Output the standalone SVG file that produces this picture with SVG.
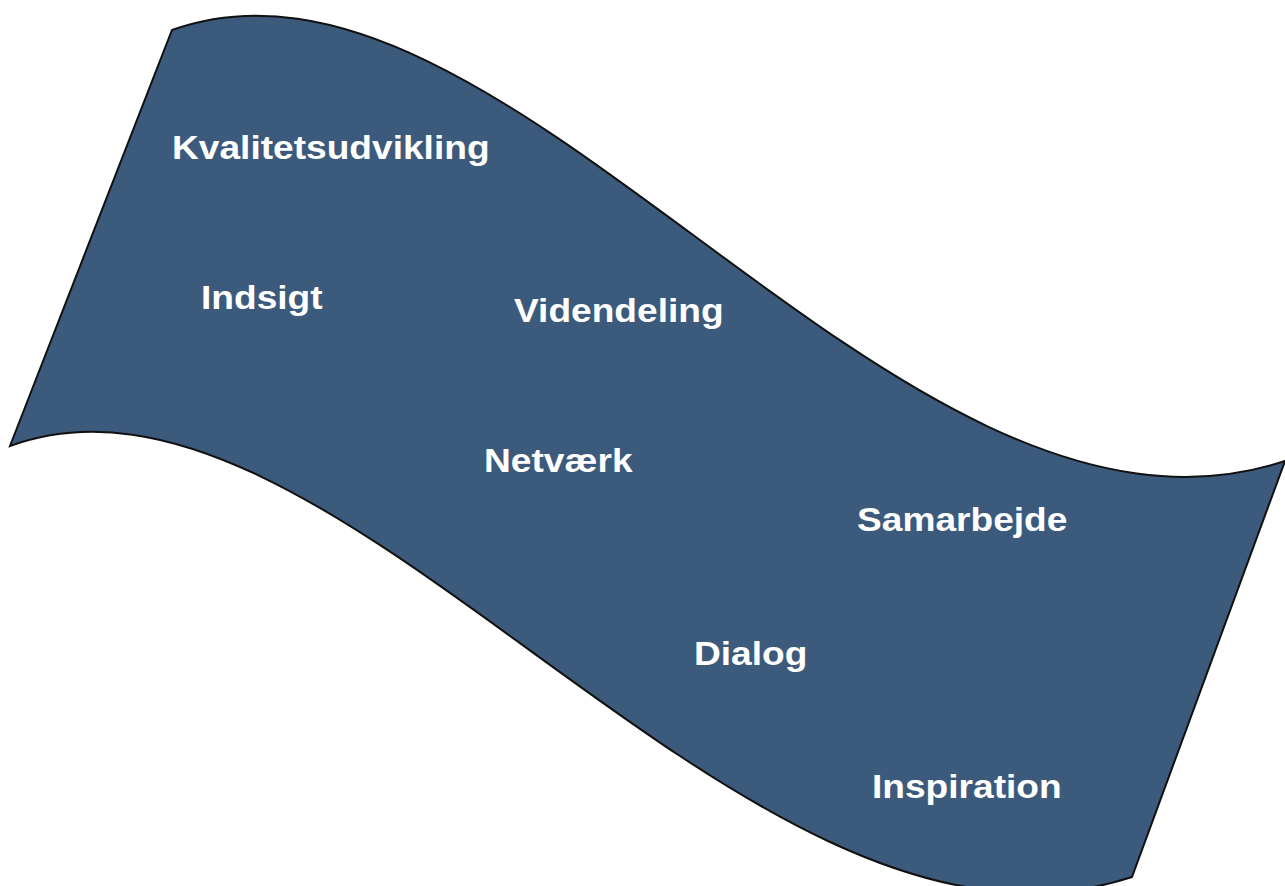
<svg xmlns="http://www.w3.org/2000/svg" width="1285" height="886" viewBox="0 0 1285 886">
<style>
.band{fill:#3c5a7c;stroke:#111;stroke-width:2;stroke-linejoin:miter}
.lbl{font-family:"Liberation Sans",Arial,sans-serif;font-weight:bold;font-size:33px;fill:#fff}
</style>
<rect width="1285" height="886" fill="#fff"/>
<g id="wave">
<path class="band" d="M172,30 C510,-90 900,588 1285,461 L1132,877 C745,1004 338,326 10,446 Z"/>
</g>
<g id="labels">
<g id="n1"><text class="lbl" transform="translate(172,159) scale(1.125,1)">Kvalitetsudvikling</text></g>
<g id="n2"><text class="lbl" transform="translate(201,309) scale(1.125,1)">Indsigt</text></g>
<g id="n3"><text class="lbl" transform="translate(514,322) scale(1.125,1)">Videndeling</text></g>
<g id="n4"><text class="lbl" transform="translate(484,472) scale(1.125,1)">Netværk</text></g>
<g id="n5"><text class="lbl" transform="translate(857,531) scale(1.125,1)">Samarbejde</text></g>
<g id="n6"><text class="lbl" transform="translate(694,665) scale(1.125,1)">Dialog</text></g>
<g id="n7"><text class="lbl" transform="translate(872,798) scale(1.125,1)">Inspiration</text></g>
</g>
</svg>
